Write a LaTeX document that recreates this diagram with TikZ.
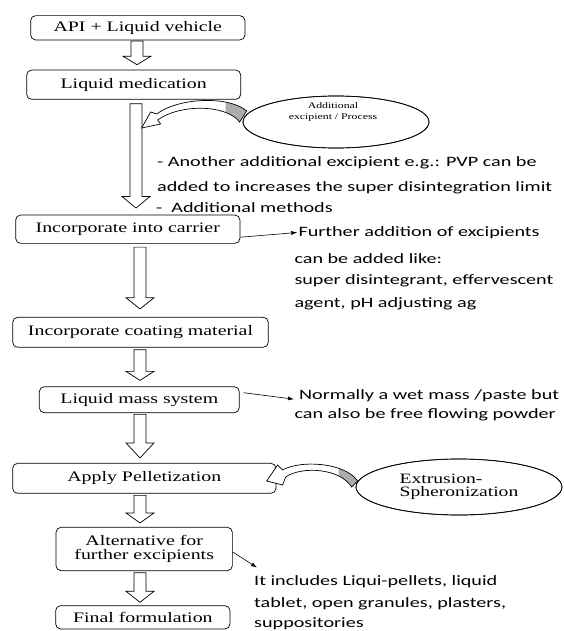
\documentclass[tikz,border=0pt]{standalone}
\usepackage{fontspec}
\newfontfamily\serifw[FakeStretch=1.37]{Liberation Serif}
\newfontfamily\sansw[FakeStretch=1.41]{Carlito}
\usetikzlibrary{calc,arrows.meta,shapes.geometric}
\begin{document}
\begin{tikzpicture}[x=1pt,y=-1pt,
  box/.style={draw, rounded corners=5pt, line width=0.7pt, align=center, inner sep=0pt,
    font=\serifw\fontsize{14.5}{14}\selectfont},
  note/.style={anchor=base west, inner sep=0pt, font=\sansw\fontsize{14.3}{17}\selectfont},
  oval/.style={draw, ellipse, line width=0.7pt, inner sep=0pt, fill=white},
  blk/.style={draw, line width=0.7pt, fill=white},
  blockarrow/.style={to path={let \p1=(\tikztostart), \p2=(\tikztotarget) in
    (\x1-6pt,\y1) -- (\x1+6pt,\y1) -- (\x1+6pt,\y2+#1) -- (\x1+14pt,\y2+#1) -- (\x1,\y2)
    -- (\x1-14pt,\y2+#1) -- (\x1-6pt,\y2+#1) -- cycle}},
  blockarrow/.default=11pt,
  pointer/.style={-{Latex[length=6pt,width=4pt]}, line width=0.6pt},
  band/.style={line width=0.7pt}]
\useasboundingbox (0,0) rectangle (563,631);

% boxes
\node[box, minimum width=214.3pt, minimum height=24.3pt] (b1) at (137.8,27.8) {API + Liquid vehicle};
\node[box, minimum width=214pt, minimum height=29.3pt] (b2) at (133.7,84.7) {Liquid medication};
\node[box, minimum width=224.3pt, minimum height=28.3pt] (b3) at (127.8,229.2) {Incorporate into carrier};
\node[box, minimum width=255.6pt, minimum height=30pt] (b4) at (140.5,332.3) {Incorporate coating material};
\node[box, minimum width=200pt, minimum height=26pt] (b5) at (139.3,399.7) {Liquid mass system};
\node[box, minimum width=263.3pt, minimum height=30pt] (b6) at (144.3,478.3) {Apply Pelletization};
\node[box, minimum width=176.3pt, minimum height=43.4pt] (b7) at (144.2,549) {Alternative for\\further excipients};
\node[box, minimum width=174.3pt, minimum height=23.3pt] (b8) at (142.8,617.3) {Final formulation};

% arrow axes
\coordinate (ax1) at (137,0);
\coordinate (ax2) at (136,0);
\coordinate (ax) at (140,0);

% block arrows
\draw[blk] ($(b1.south -| ax1)+(0,0.7)$) to[blockarrow=8.5pt] ($(b2.north -| ax1)+(0,-5)$);
\draw[blk] ($(b2.south -| ax2)+(0,4)$) to[blockarrow=11.5pt] ($(b3.north -| ax2)+(0,-6.7)$);
\draw[blk] ($(b3.south -| ax)+(0,3.4)$) to[blockarrow=11.3pt] ($(b4.north -| ax)+(0,-8)$);
\draw[blk] ($(b4.south -| ax)+(0,2)$) to[blockarrow=9pt] ($(b5.north -| ax)+(0,-6)$);
\draw[blk] ($(b5.south -| ax)+(0,1.3)$) to[blockarrow=15pt] ($(b6.north -| ax)+(0,-5)$);
\draw[blk] ($(b6.south -| ax)+(0,1.7)$) to[blockarrow=10pt] ($(b7.north -| ax)+(0,-4)$);
\draw[blk] ($(b7.south -| ax)+(0,1.6)$) to[blockarrow=11pt] ($(b8.north -| ax)+(0,-3)$);

% ellipses
\node[oval, minimum width=186pt, minimum height=52pt] (e1) at (336,122) {};
\node[inner sep=0pt, align=center, font=\serifw\fontsize{8.6}{10.3}\selectfont] (e1t) at (333,112) {Additional\\excipient / Process};
\node[oval, minimum width=206pt, minimum height=56pt, align=left,
  font=\serifw\fontsize{14.3}{13.4}\selectfont] (e2) at (459,487) {Extrusion-\\Spheronization};

% curved arrow 1
\begin{scope}[shift={(e1.west)}]
  \fill[white] (4,-11) .. controls (-13,-26) and (-63,-25) .. (-86,-8) -- (-92,-10) -- (-101,6) -- (-82,2) -- (-85,-2) .. controls (-63,-18) and (-17,-18) .. (-3,0) -- cycle;
  \begin{scope}
    \clip (-17,-40) rectangle (12,10);
    \fill[gray!65] (4,-11) .. controls (-13,-26) and (-63,-25) .. (-86,-8) -- (-92,-10) -- (-101,6) -- (-82,2) -- (-85,-2) .. controls (-63,-18) and (-17,-18) .. (-3,0) -- cycle;
  \end{scope}
  \draw[band] (4,-11) .. controls (-13,-26) and (-63,-25) .. (-86,-8) -- (-92,-10) -- (-101,6) -- (-82,2) -- (-85,-2) .. controls (-63,-18) and (-17,-18) .. (-3,0) -- cycle;
\end{scope}
\draw[line width=0.7pt] (e1) ellipse [x radius=93pt, y radius=26pt];

% curved arrow 2
\begin{scope}[shift={(e2.west)}]
  \fill[white] (2,-6) .. controls (-11,-25) and (-56,-27) .. (-73,-17) -- (-78,-22) -- (-89,-6) -- (-73,-2) -- (-70,-10) .. controls (-54,-21) and (-16,-19) .. (-4,0) -- cycle;
  \begin{scope}
    \clip (-17,-40) rectangle (12,10);
    \fill[gray!65] (2,-6) .. controls (-11,-25) and (-56,-27) .. (-73,-17) -- (-78,-22) -- (-89,-6) -- (-73,-2) -- (-70,-10) .. controls (-54,-21) and (-16,-19) .. (-4,0) -- cycle;
  \end{scope}
  \draw[band] (2,-6) .. controls (-11,-25) and (-56,-27) .. (-73,-17) -- (-78,-22) -- (-89,-6) -- (-73,-2) -- (-70,-10) .. controls (-54,-21) and (-16,-19) .. (-4,0) -- cycle;
\end{scope}
\draw[line width=0.7pt] (e2) ellipse [x radius=103pt, y radius=28pt];

% notes
\node[note] (t1a) at (157,167) {- Another additional excipient e.g.: PVP can be};
\node[note] (t1b) at (157,191) {added to increases the super disintegration limit};
\node[note] (t1c) at (156,212) {-\ \ Additional methods};

\node[note] (r1) at (298.3,236.3) {Further addition of excipients};
\node[note] (r2) at (294.3,263) {can be added like:};
\node[note] (r3) at (294.3,284) {super disintegrant, effervescent};
\node[note] (r4) at (294.3,307.3) {agent, pH adjusting ag};

\node[note] (n1) at (299,399) {Normally a wet mass /paste but};
\node[note] (n2) at (294.3,418.3) {can also be free flowing powder};

\node[note] (i1) at (254,585.7) {It includes Liqui-pellets, liquid};
\node[note] (i2) at (254,607.3) {tablet, open granules, plasters,};
\node[note] (i3) at (254,627) {suppositories};

% pointers
\draw[pointer] ([yshift=-8pt]b3.east) -- ([xshift=-1pt]r1.west);
\draw[pointer] ([xshift=4pt,yshift=7pt]b5.east) -- ([xshift=-5pt,yshift=-4pt]n1.west);
\coordinate (c7) at (257,567.5);
\draw[pointer] ([yshift=-3pt]b7.east) -- (c7);
\end{tikzpicture}
\end{document}
